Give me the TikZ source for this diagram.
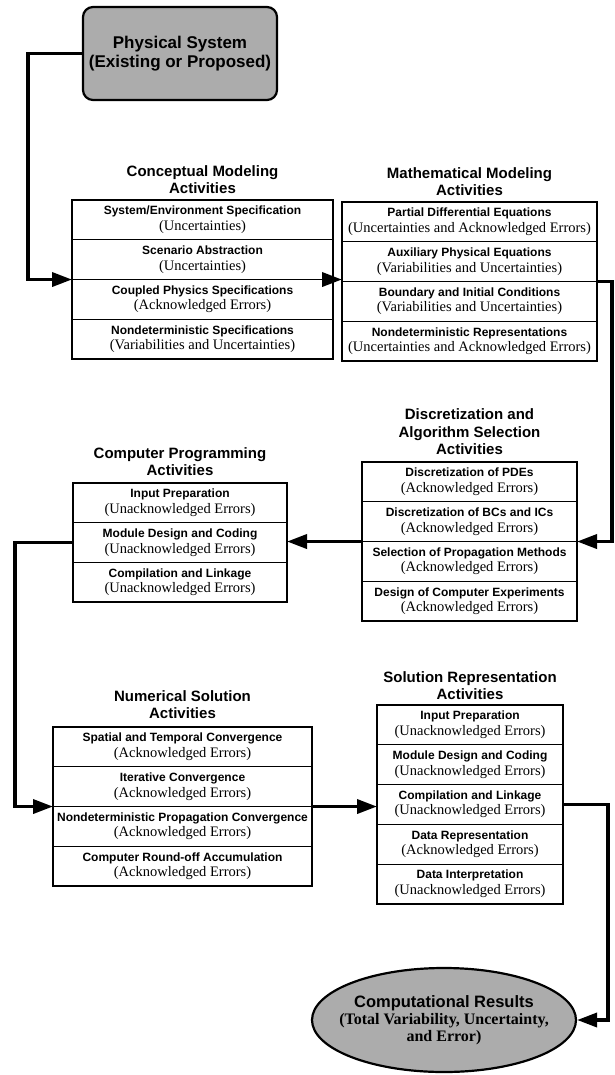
\documentclass[tikz,border=0pt]{standalone}
\usepackage{fontspec}
\setmainfont{Liberation Serif}
\setsansfont{Liberation Sans}
\usetikzlibrary{positioning,fit,shapes.geometric,arrows.meta}

\definecolor{grisfondo}{RGB}{172,172,172}

\newcommand{\hd}[1]{{\sffamily\bfseries\fontsize{12}{15}\selectfont #1}}

\tikzset{
  titulo/.style={font=\sffamily\bfseries\fontsize{15}{17.5}\selectfont, align=center, inner sep=0pt},
  fila/.style={draw, line width=0.9pt, inner sep=0pt, outer sep=0pt, minimum height=39.75pt, align=center, font=\rmfamily\fontsize{14.5}{15.5}\selectfont},
  marco/.style={draw, line width=1.8pt, inner sep=0pt, outer sep=0pt},
  flujo/.style={line width=3.6pt, -{Triangle[length=20pt,width=14pt]}},
}

\begin{document}
\begin{tikzpicture}[x=1pt, y=-1pt]

		% Ventana de dibujo
		\useasboundingbox (0,0) rectangle (614,1075);

		% Sistema físico (caja gris redondeada)
		\node [draw, line width=2.2pt, rounded corners=10pt, fill=grisfondo, minimum width=194pt, minimum height=93pt, align=center, font=\sffamily\bfseries\fontsize{17}{19}\selectfont] (fisico) at (180,53.5) {Physical System\\(Existing or Proposed)};

		% Modelado conceptual
		\node [fila, minimum width=261pt] (c1) at (202.5,219.9) {\hd{System/Environment Specification}\\(Uncertainties)};
		\node [fila, minimum width=261pt, below=0pt of c1] (c2) {\hd{Scenario Abstraction}\\(Uncertainties)};
		\node [fila, minimum width=261pt, below=0pt of c2] (c3) {\hd{Coupled Physics Specifications}\\(Acknowledged Errors)};
		\node [fila, minimum width=261pt, below=0pt of c3] (c4) {\hd{Nondeterministic Specifications}\\(Variabilities and Uncertainties)};
		\node [marco, fit=(c1)(c4)] (concept) {};
		\node [titulo, above=6pt of c1] (concept-t) {Conceptual Modeling\\Activities};

		% Modelado matemático
		\node [fila, minimum width=255pt] (m1) at (469.5,221.9) {\hd{Partial Differential Equations}\\(Uncertainties and Acknowledged Errors)};
		\node [fila, minimum width=255pt, below=0pt of m1] (m2) {\hd{Auxiliary Physical Equations}\\(Variabilities and Uncertainties)};
		\node [fila, minimum width=255pt, below=0pt of m2] (m3) {\hd{Boundary and Initial Conditions}\\(Variabilities and Uncertainties)};
		\node [fila, minimum width=255pt, below=0pt of m3] (m4) {\hd{Nondeterministic Representations}\\(Uncertainties and Acknowledged Errors)};
		\node [marco, fit=(m1)(m4)] (math) {};
		\node [titulo, above=6pt of m1] (math-t) {Mathematical Modeling\\Activities};

		% Discretización y selección de algoritmos
		\node [fila, minimum width=215pt] (d1) at (469.5,481.9) {\hd{Discretization of PDEs}\\(Acknowledged Errors)};
		\node [fila, minimum width=215pt, below=0pt of d1] (d2) {\hd{Discretization of BCs and ICs}\\(Acknowledged Errors)};
		\node [fila, minimum width=215pt, below=0pt of d2] (d3) {\hd{Selection of Propagation Methods}\\(Acknowledged Errors)};
		\node [fila, minimum width=215pt, below=0pt of d3] (d4) {\hd{Design of Computer Experiments}\\(Acknowledged Errors)};
		\node [marco, fit=(d1)(d4)] (discr) {};
		\node [titulo, above=7pt of d1] (discr-t) {Discretization and\\Algorithm Selection\\Activities};

		% Programación
		\node [fila, minimum width=214pt] (p1) at (180,502.9) {\hd{Input Preparation}\\(Unacknowledged Errors)};
		\node [fila, minimum width=214pt, below=0pt of p1] (p2) {\hd{Module Design and Coding}\\(Unacknowledged Errors)};
		\node [fila, minimum width=214pt, below=0pt of p2] (p3) {\hd{Compilation and Linkage}\\(Unacknowledged Errors)};
		\node [marco, fit=(p1)(p3)] (prog) {};
		\node [titulo, above=7pt of p1] (prog-t) {Computer Programming\\Activities};

		% Solución numérica
		\node [fila, minimum width=259pt] (n1) at (182.5,746.9) {\hd{Spatial and Temporal Convergence}\\(Acknowledged Errors)};
		\node [fila, minimum width=259pt, below=0pt of n1] (n2) {\hd{Iterative Convergence}\\(Acknowledged Errors)};
		\node [fila, minimum width=259pt, below=0pt of n2] (n3) {\hd{Nondeterministic Propagation Convergence}\\(Acknowledged Errors)};
		\node [fila, minimum width=259pt, below=0pt of n3] (n4) {\hd{Computer Round-off Accumulation}\\(Acknowledged Errors)};
		\node [marco, fit=(n1)(n4)] (numer) {};
		\node [titulo, above=8pt of n1] (numer-t) {Numerical Solution\\Activities};

		% Representación de la solución
		\node [fila, minimum width=186pt] (s1) at (470,724.9) {\hd{Input Preparation}\\(Unacknowledged Errors)};
		\node [fila, minimum width=186pt, below=0pt of s1] (s2) {\hd{Module Design and Coding}\\(Unacknowledged Errors)};
		\node [fila, minimum width=186pt, below=0pt of s2] (s3) {\hd{Compilation and Linkage}\\(Unacknowledged Errors)};
		\node [fila, minimum width=186pt, below=0pt of s3] (s4) {\hd{Data Representation}\\(Acknowledged Errors)};
		\node [fila, minimum width=186pt, below=0pt of s4] (s5) {\hd{Data Interpretation}\\(Unacknowledged Errors)};
		\node [marco, fit=(s1)(s5)] (solrep) {};
		\node [titulo, above=5pt of s1] (solrep-t) {Solution Representation\\Activities};

		% Resultados computacionales (elipse gris, texto encima)
		\node [ellipse, draw, line width=2.2pt, fill=grisfondo, minimum width=264pt, minimum height=104pt, inner sep=0pt] (result) at (444,1020) {};
		\node [align=center, inner sep=0pt, font=\rmfamily\bfseries\fontsize{16}{17}\selectfont] (result-t) at (result.center) {{\sffamily\fontsize{16.5}{17}\selectfont Computational Results}\\(Total Variability, Uncertainty,\\and Error)};

		% Conectores
		\draw [flujo] (fisico.west) -| ([xshift=-44pt]concept.west) -- (concept.west);
		\draw [flujo] (concept.east) -- (concept.east -| math.west);
		\draw [flujo] (math.east) -- ++(15,0) |- (discr.east);
		\draw [flujo] (discr.west) -- (discr.west -| prog.east);
		\draw [flujo] (prog.west) -- ++(-58,0) |- (numer.west);
		\draw [flujo] (numer.east) -- (numer.east -| solrep.west);
		\draw [flujo] (solrep.east) -- ++(45,0) |- (result.east);

	\end{tikzpicture}
\end{document}
